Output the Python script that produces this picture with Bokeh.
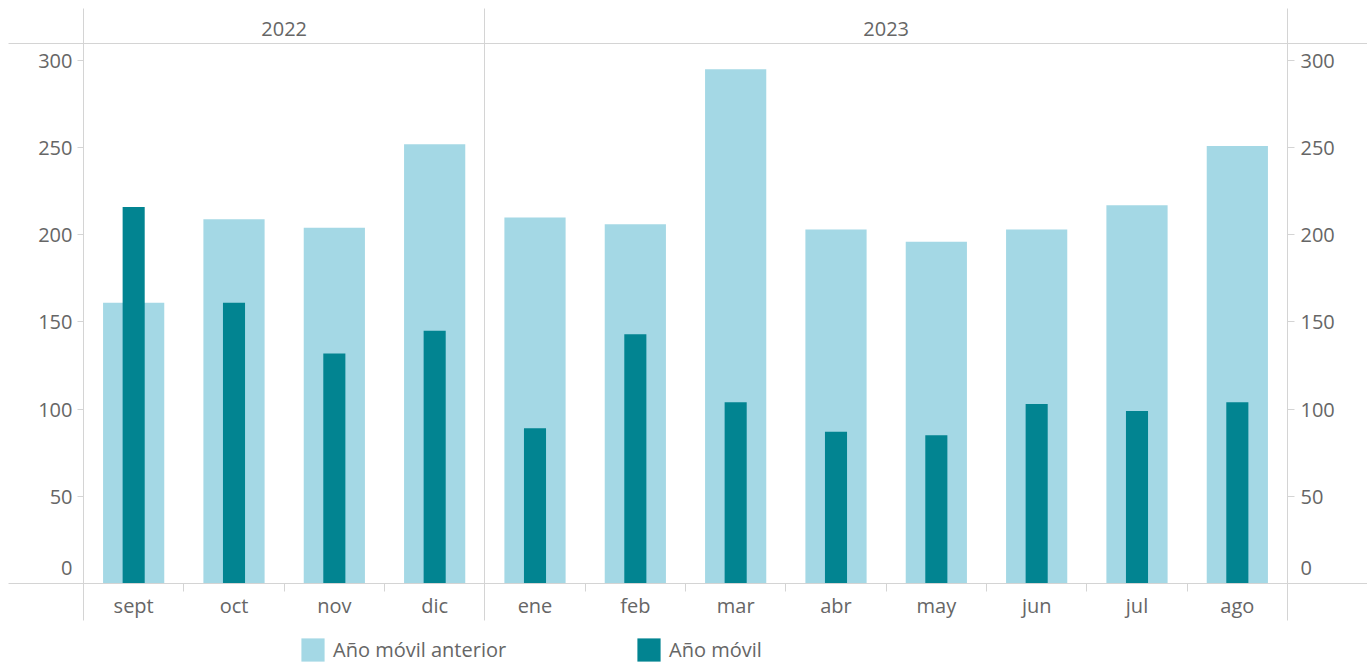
from bokeh.plotting import figure
from bokeh.layouts import column
from bokeh.models import Range1d, LinearAxis, FixedTicker, Legend, LegendItem, ColumnDataSource
from bokeh.embed import file_html
from bokeh.resources import INLINE

# ---------------- data ----------------
years = ["2022", "2023"]
months_per_year = [4, 8]
months = ["sept", "oct", "nov", "dic", "ene", "feb", "mar", "abr", "may", "jun", "jul", "ago"]
anio_movil_anterior = [161, 209, 204, 252, 210, 206, 295, 203, 196, 203, 217, 251]
anio_movil = [216, 161, 132, 145, 89, 143, 104, 87, 85, 103, 99, 104]
y_ticks = [0, 50, 100, 150, 200, 250, 300]
series_labels = ["Año móvil anterior", "Año móvil"]

# ---------------- style ----------------
FONT = "Open Sans"
FSIZE = "20px"
TEXT = "#666666"
RULE = "#d4d4d4"
LIGHT = "#a4d8e5"
DARK = "#028491"
Y_TOP = 309.75

n = len(months)
xs = [i + 0.5 for i in range(n)]
src = ColumnDataSource(dict(x=xs, month=months, ant=anio_movil_anterior, mov=anio_movil))

bounds = [0]
for m in months_per_year:
    bounds.append(bounds[-1] + m)
year_centers = [(bounds[i] + bounds[i + 1]) / 2 for i in range(len(years))]

p = figure(width=1367, height=630, output_backend="svg", toolbar_location=None,
           x_range=Range1d(0, n), y_range=Range1d(0, Y_TOP),
           min_border_left=83, min_border_right=80, min_border_top=43, min_border_bottom=47,
           outline_line_color=None, background_fill_color="white", border_fill_color="white")
p.xgrid.visible = False
p.ygrid.visible = False

r1 = p.vbar(x="x", top="ant", bottom=0, width=0.61, source=src, fill_color=LIGHT, line_color=None)
r2 = p.vbar(x="x", top="mov", bottom=0, width=0.22, source=src, fill_color=DARK, line_color=None)


def style_labels(ax):
    ax.major_label_text_font = FONT
    ax.major_label_text_font_size = FSIZE
    ax.major_label_text_color = TEXT


# bottom month axis
xa = p.xaxis[0]
xa.ticker = FixedTicker(ticks=xs, minor_ticks=list(range(1, n)))
xa.major_label_overrides = {x: m for x, m in zip(xs, months)}
xa.axis_line_color = None
xa.major_tick_line_color = None
xa.major_tick_out = 0
xa.major_tick_in = 0
xa.minor_tick_line_color = RULE
xa.minor_tick_out = 8
xa.minor_tick_in = 0
xa.major_label_standoff = 0
style_labels(xa)

# top year header axis (its minor ticks are the full-height pane dividers)
ta = LinearAxis(ticker=FixedTicker(ticks=year_centers, minor_ticks=bounds),
                major_label_overrides={c: y for c, y in zip(year_centers, years)})
ta.axis_line_color = None
ta.major_tick_line_color = None
ta.major_tick_out = 0
ta.major_tick_in = 0
ta.minor_tick_line_color = RULE
ta.minor_tick_out = 35
ta.minor_tick_in = 577
ta.major_label_standoff = -27
style_labels(ta)
p.add_layout(ta, "above")

# left value axis (its minor ticks are the full-width header / base rules)
ya = p.yaxis[0]
ya.ticker = FixedTicker(ticks=y_ticks, minor_ticks=[0, Y_TOP])
ya.axis_line_color = RULE
ya.major_tick_line_color = RULE
ya.major_tick_out = 6
ya.major_tick_in = 0
ya.minor_tick_line_color = RULE
ya.minor_tick_out = 75
ya.minor_tick_in = 1284
ya.major_label_standoff = -64
ya.major_label_overrides = {0: "0\n"}
style_labels(ya)

ra = LinearAxis(ticker=FixedTicker(ticks=y_ticks))
ra.axis_line_color = RULE
ra.major_tick_line_color = RULE
ra.major_tick_out = 7
ra.major_tick_in = 0
ra.minor_tick_line_color = None
ra.minor_tick_out = 0
ra.major_label_standoff = 6
ra.major_label_overrides = {0: "0\n"}
style_labels(ra)
p.add_layout(ra, "right")

# ---------------- legend strip ----------------
pl = figure(width=1367, height=35, output_backend="svg", toolbar_location=None,
            x_range=Range1d(0, 1), y_range=Range1d(0, 1),
            x_axis_type=None, y_axis_type=None,
            min_border_left=0, min_border_right=0, min_border_top=0, min_border_bottom=0,
            outline_line_color=None, background_fill_color="white", border_fill_color="white")
# zero-height proxy bars: only their swatches appear in the legend
l1 = pl.vbar(x="x", top=0, bottom=0, width=0.61, source=src, fill_color=LIGHT, line_color=None)
l2 = pl.vbar(x="x", top=0, bottom=0, width=0.22, source=src, fill_color=DARK, line_color=None)


def make_legend(label, rend, loc):
    lg = Legend(items=[LegendItem(label=label, renderers=[rend])], location=loc,
                orientation="horizontal", padding=0, margin=0, spacing=0,
                border_line_color=None, background_fill_alpha=0,
                glyph_width=29, glyph_height=29, label_standoff=6,
                label_text_font=FONT, label_text_font_size=FSIZE, label_text_color=TEXT)
    pl.add_layout(lg, "center")


make_legend(series_labels[0], l1, (215, 1))
make_legend(series_labels[1], l2, (551, 1))

layout = column(p, pl, spacing=0)
open("out.html", "w").write(file_html(layout, INLINE))
